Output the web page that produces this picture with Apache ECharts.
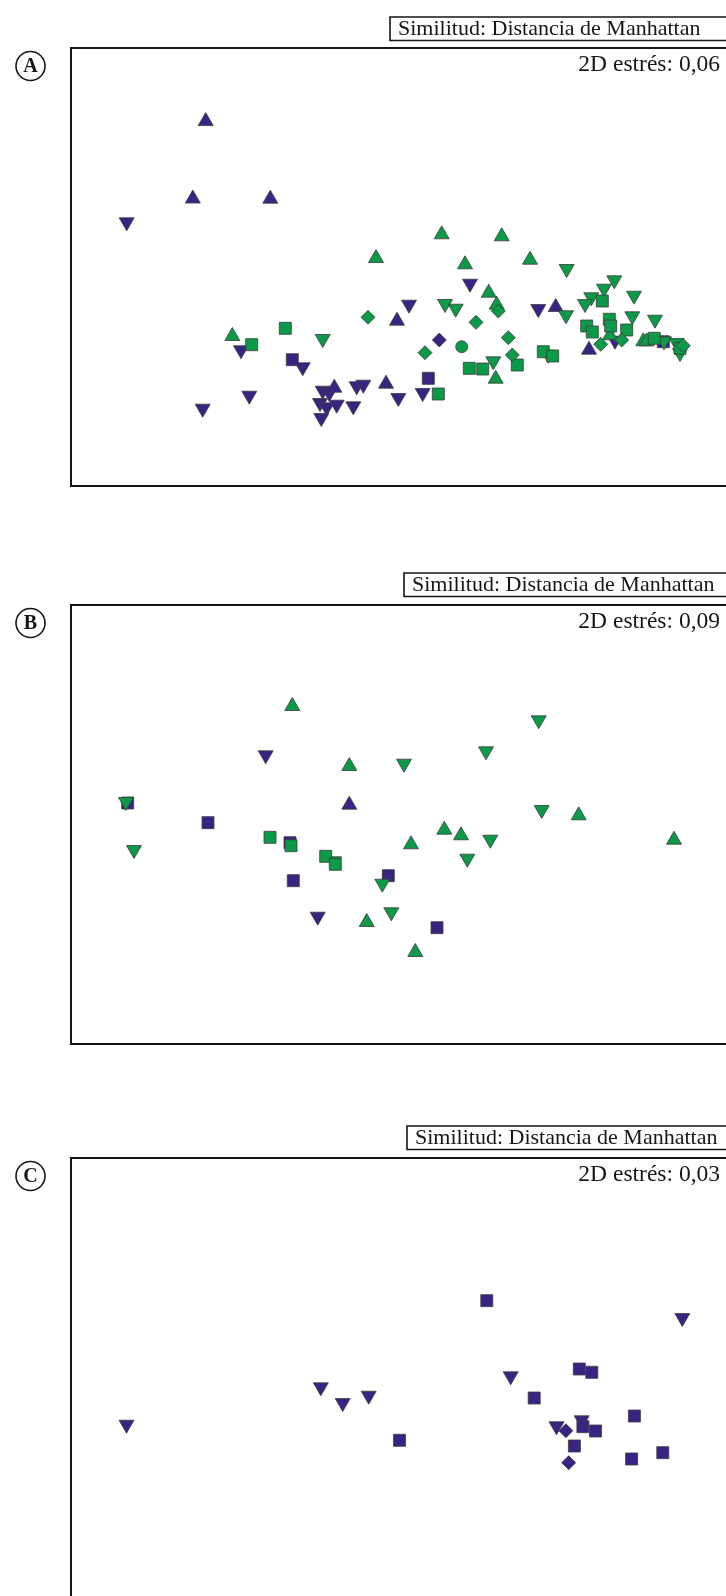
<!DOCTYPE html>
<html>
<head>
<meta charset="utf-8">
<script src="https://cdn.jsdelivr.net/npm/echarts@6/dist/echarts.min.js"></script>
<style>
  html, body { margin: 0; padding: 0; background: #ffffff; }
  #chart { width: 726px; height: 1596px; }
</style>
</head>
<body>
<div id="chart"></div>
<script>
// NMDS ordination scores (x = axis 1, y = axis 2), one list per group and symbol.
const panelLetters = ['A', 'B', 'C'];
const similarityLabel = 'Similitud: Distancia de Manhattan';
const stressLabels = ['2D estrés: 0,06', '2D estrés: 0,09', '2D estrés: 0,03'];

// Panel A
const aPurpleUp = [[1.347, 3.669], [1.218, 2.895], [1.993, 2.893], [3.26, 1.673], [2.633, 1.003],
  [3.15, 1.043], [4.847, 1.81], [5.18, 1.383]];
const aPurpleDown = [[0.557, 2.617], [1.70, 1.337], [2.317, 1.167], [1.783, 0.883], [1.317, 0.753],
  [2.517, 0.933], [2.583, 0.91], [2.49, 0.81], [2.557, 0.767], [2.657, 0.793], [2.503, 0.66],
  [2.823, 0.777], [2.857, 0.977], [2.923, 0.993], [3.273, 0.86], [3.38, 1.793], [3.99, 2.003],
  [4.673, 1.75], [3.517, 0.91], [5.44, 1.433]];
const aPurpleSquare = [[2.213, 1.263], [3.573, 1.077], [5.923, 1.443]];
const aPurpleDiamond = [[3.683, 1.46]];
const aGreenUp = [[3.05, 2.30], [1.613, 1.52], [3.707, 2.537], [4.307, 2.517], [3.94, 2.237],
  [4.59, 2.283], [4.177, 1.953], [4.257, 1.833], [5.39, 1.527], [5.723, 1.467], [5.757, 1.467],
  [4.247, 1.093]];
const aGreenDown = [[2.517, 1.45], [4.957, 2.15], [5.433, 2.037], [5.33, 1.953], [5.63, 1.883],
  [5.203, 1.867], [5.14, 1.80], [3.74, 1.80], [3.847, 1.753], [4.95, 1.687], [5.613, 1.677],
  [5.84, 1.643], [5.93, 1.427], [6.057, 1.41], [6.09, 1.31], [4.773, 1.293], [4.223, 1.227]];
const aGreenSquare = [[2.143, 1.577], [1.807, 1.413], [5.313, 1.85], [5.383, 1.667], [5.397, 1.60],
  [5.157, 1.60], [5.213, 1.54], [5.557, 1.56], [5.833, 1.477], [6.09, 1.377], [4.723, 1.343],
  [4.817, 1.30], [3.983, 1.177], [4.117, 1.17], [4.463, 1.21], [3.673, 0.92]];
const aGreenDiamond = [[2.97, 1.687], [4.273, 1.75], [4.05, 1.637], [5.507, 1.46], [5.297, 1.417],
  [6.123, 1.403], [4.373, 1.483], [3.54, 1.333], [4.413, 1.31]];
const aGreenCircle = [[3.907, 1.393]];

// Panel B
const bPurpleUp = [[2.783, 2.413]];
const bPurpleDown = [[1.947, 2.867], [2.467, 1.253]];
const bPurpleSquare = [[0.567, 2.41], [1.37, 2.213], [2.19, 2.013], [2.223, 1.633], [3.173, 1.683],
  [3.66, 1.163]];
const bGreenUp = [[2.213, 3.40], [2.783, 2.80], [3.40, 2.017], [3.733, 2.163], [3.90, 2.107],
  [2.957, 1.24], [3.443, 0.94], [5.077, 2.307], [6.03, 2.063]];
const bGreenDown = [[3.33, 2.783], [0.55, 2.40], [0.63, 1.92], [2.63, 1.807], [3.113, 1.583],
  [3.203, 1.297], [4.677, 3.217], [4.15, 2.907], [4.707, 2.32], [4.193, 2.023], [3.963, 1.833]];
const bGreenSquare = [[1.99, 2.067], [2.20, 1.983], [2.547, 1.877], [2.643, 1.797]];

// Panel C
const cPurpleDown = [[6.113, 2.77], [4.397, 2.187], [2.498, 2.077], [2.717, 1.92], [2.977, 1.993],
  [0.555, 1.703], [4.855, 1.687], [5.107, 1.747]];
const cPurpleSquare = [[4.158, 2.963], [5.083, 2.28], [5.208, 2.247], [4.632, 1.99], [5.634, 1.81],
  [5.119, 1.703], [5.245, 1.66], [3.285, 1.567], [5.034, 1.51], [5.918, 1.443], [5.606, 1.38]];
const cPurpleDiamond = [[4.949, 1.663], [4.977, 1.343]];

const PURPLE = '#3a2483';
const GREEN = '#0b9a47';
const EDGE = '#3c3c3c';
const INK = '#161616';
const SERIF = '"Liberation Serif", "DejaVu Serif", serif';

const shapes = {
  up: { symbol: 'triangle', size: [15, 13], rotate: 0 },
  down: { symbol: 'triangle', size: [15, 13], rotate: 180 },
  square: { symbol: 'rect', size: [12, 12], rotate: 0 },
  diamond: { symbol: 'diamond', size: [14, 14], rotate: 0 },
  circle: { symbol: 'circle', size: [12, 12], rotate: 0 }
};

const panels = [
  { top: 48, height: 438, yMax: 4.38, boxY: 17, boxX: 390, groups: [
    ['Grupo 1 ▼', aPurpleDown, PURPLE, 'down'], ['Grupo 1 ▲', aPurpleUp, PURPLE, 'up'],
    ['Grupo 1 ■', aPurpleSquare, PURPLE, 'square'], ['Grupo 1 ◆', aPurpleDiamond, PURPLE, 'diamond'],
    ['Grupo 2 ▲', aGreenUp, GREEN, 'up'], ['Grupo 2 ▼', aGreenDown, GREEN, 'down'],
    ['Grupo 2 ■', aGreenSquare, GREEN, 'square'], ['Grupo 2 ◆', aGreenDiamond, GREEN, 'diamond'],
    ['Grupo 2 ●', aGreenCircle, GREEN, 'circle']
  ] },
  { top: 605, height: 439, yMax: 4.39, boxY: 573, boxX: 404, groups: [
    ['Grupo 1 ▲', bPurpleUp, PURPLE, 'up'], ['Grupo 1 ▼', bPurpleDown, PURPLE, 'down'],
    ['Grupo 1 ■', bPurpleSquare, PURPLE, 'square'],
    ['Grupo 2 ▲', bGreenUp, GREEN, 'up'], ['Grupo 2 ▼', bGreenDown, GREEN, 'down'],
    ['Grupo 2 ■', bGreenSquare, GREEN, 'square']
  ] },
  { top: 1158, height: 439, yMax: 4.39, boxY: 1126, boxX: 407, groups: [
    ['Grupo 1 ▼', cPurpleDown, PURPLE, 'down'], ['Grupo 1 ■', cPurpleSquare, PURPLE, 'square'],
    ['Grupo 1 ◆', cPurpleDiamond, PURPLE, 'diamond']
  ] }
];

const grid = [], xAxis = [], yAxis = [], series = [], graphic = [];

panels.forEach((p, i) => {
  // the frame runs past the right edge of the page, so only three sides show
  grid.push({ left: 71, top: p.top, width: 713, height: p.height, show: true,
    outerBoundsMode: 'none', containLabel: false,
    borderColor: INK, borderWidth: 2, backgroundColor: 'transparent' });
  xAxis.push({ gridIndex: i, type: 'value', min: 0, max: 7.13, show: false });
  yAxis.push({ gridIndex: i, type: 'value', min: 0, max: p.yMax, show: false });

  p.groups.forEach(([name, data, color, shape]) => {
    const s = shapes[shape];
    series.push({
      type: 'scatter', name, xAxisIndex: i, yAxisIndex: i, data,
      symbol: s.symbol, symbolSize: s.size, symbolRotate: s.rotate,
      itemStyle: { color, borderColor: EDGE, borderWidth: 0.8, opacity: 1 },
      emphasis: { disabled: true }, silent: true, clip: true
    });
  });

  // similarity caption box above each frame
  graphic.push({ type: 'rect', shape: { x: p.boxX, y: p.boxY, width: 400, height: 23.5 },
    style: { fill: '#fff', stroke: INK, lineWidth: 1.6 } });
  graphic.push({ type: 'text', x: p.boxX + 8, y: p.boxY + 12.5,
    style: { text: similarityLabel, font: '22px ' + SERIF, fill: INK,
      textAlign: 'left', textVerticalAlign: 'middle' } });

  // stress value, top-right inside the frame
  graphic.push({ type: 'text', x: 720, y: p.top + 17,
    style: { text: stressLabels[i], font: '23.5px ' + SERIF, fill: INK,
      textAlign: 'right', textVerticalAlign: 'middle' } });

  // circled panel letter
  const cy = p.top + 18;
  graphic.push({ type: 'circle', shape: { cx: 30.5, cy, r: 14.5 },
    style: { fill: '#fff', stroke: INK, lineWidth: 1.6 } });
  graphic.push({ type: 'text', x: 30.5, y: cy + 1,
    style: { text: panelLetters[i], font: 'bold 20px ' + SERIF, fill: INK,
      textAlign: 'center', textVerticalAlign: 'middle' } });
});

const chart = echarts.init(document.getElementById('chart'), null, { renderer: 'canvas' });
chart.setOption({
  backgroundColor: '#ffffff',
  animation: false,
  grid, xAxis, yAxis, series, graphic
});
</script>
</body>
</html>
